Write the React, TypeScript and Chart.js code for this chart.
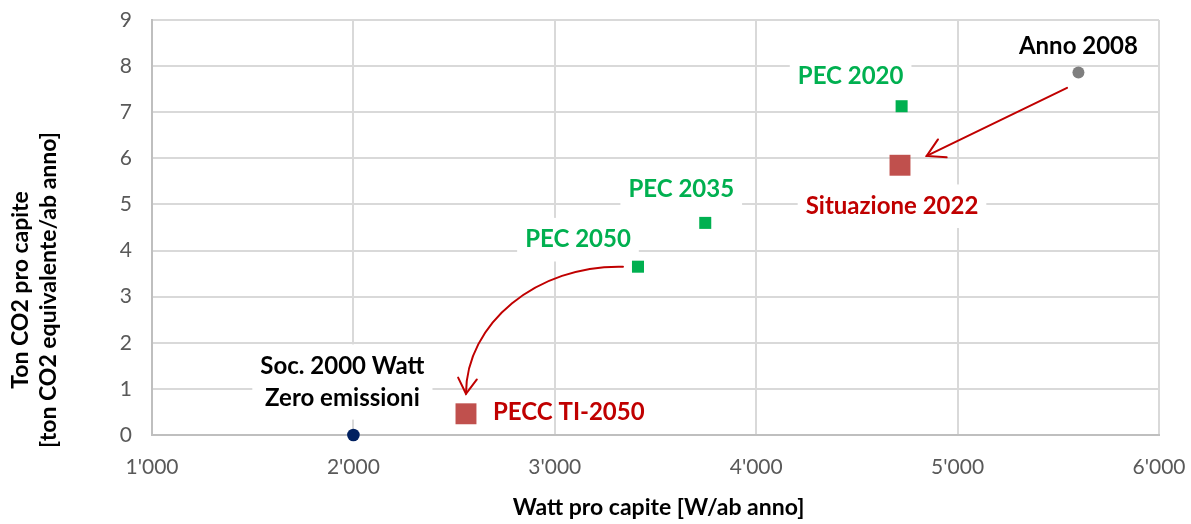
import { useEffect, useRef } from "react";
import { Chart, registerables } from "chart.js";

Chart.register(...registerables);

// ---- data ----
const pointNames = [
  "Soc. 2000 Watt\nZero emissioni",
  "PECC TI-2050",
  "PEC 2050",
  "PEC 2035",
  "PEC 2020",
  "Situazione 2022",
  "Anno 2008",
];
const wattPerCapita = [2000, 2559, 3413, 3747, 4722, 4714, 5600];
const co2PerCapita = [0, 0.46, 3.65, 4.6, 7.13, 5.85, 7.86];
const xTickValues = [1000, 2000, 3000, 4000, 5000, 6000];
const yTickValues = [0, 1, 2, 3, 4, 5, 6, 7, 8, 9];

// ---- styles ----
const pointColors = ["#002060", "#c0504d", "#00b050", "#00b050", "#00b050", "#c0504d", "#7f7f7f"];
const pointShapes = ["circle", "rect", "rect", "rect", "rect", "rect", "circle"];
const pointRadii = [6.3, 14.8, 8.5, 8.5, 8.5, 14.8, 6];
const labelColors = ["#000000", "#c00000", "#00b050", "#00b050", "#00b050", "#c00000", "#000000"];
// label offsets relative to marker (px): dx, dy, align, box
const labelLayout = [
  { dx: -11, dy: -53, align: "center", box: true },
  { dx: 27, dy: -2, align: "left", box: false },
  { dx: -60, dy: -27, align: "center", box: true },
  { dx: -24, dy: -34, align: "center", box: true },
  { dx: -51, dy: -30, align: "center", box: true },
  { dx: -8, dy: 41, align: "center", box: true },
  { dx: 0, dy: -26, align: "center", box: false },
];

const FONT = "Lato, 'Open Sans', sans-serif";
const ARROW = "#c00000";

function arrowHead(ctx: CanvasRenderingContext2D, tx: number, ty: number, fromX: number, fromY: number, len = 19, ang = Math.PI / 6) {
  const a = Math.atan2(fromY - ty, fromX - tx);
  ctx.beginPath();
  ctx.moveTo(tx + len * Math.cos(a + ang), ty + len * Math.sin(a + ang));
  ctx.lineTo(tx, ty);
  ctx.lineTo(tx + len * Math.cos(a - ang), ty + len * Math.sin(a - ang));
  ctx.stroke();
}

const zeroPad = (s: any) => {
  s.paddingTop = 0;
  s.paddingBottom = 0;
  s.paddingLeft = 0;
  s.paddingRight = 0;
};

const annotationPlugin = {
  id: "annotations",
  beforeDatasetsDraw(chart: any) {
    const ctx: CanvasRenderingContext2D = chart.ctx;
    const xs = chart.scales.x;
    const ys = chart.scales.y;
    ctx.save();
    ctx.font = `bold 24px ${FONT}`;
    ctx.textBaseline = "middle";
    pointNames.forEach((name, i) => {
      const px = xs.getPixelForValue(wattPerCapita[i]);
      const py = ys.getPixelForValue(co2PerCapita[i]);
      const L = labelLayout[i];
      const lines = name.split("\n");
      const lh = 31.6;
      const cx = px + L.dx;
      const cy = py + L.dy;
      const widths = lines.map((l) => ctx.measureText(l).width);
      const maxW = Math.max(...widths);
      const totalH = lh * lines.length;
      const top = cy - totalH / 2 + lh / 2;
      if (L.box) {
        const left = L.align === "center" ? cx - maxW / 2 : cx;
        ctx.fillStyle = "#ffffff";
        ctx.fillRect(left - 8, cy - totalH / 2 - 6, maxW + 16, totalH + 12);
      }
      ctx.fillStyle = labelColors[i];
      ctx.textAlign = L.align as CanvasTextAlign;
      lines.forEach((l, k) => ctx.fillText(l, cx, top + k * lh));
    });
    ctx.restore();
  },
  afterDatasetsDraw(chart: any) {
    const ctx: CanvasRenderingContext2D = chart.ctx;
    const xs = chart.scales.x;
    const ys = chart.scales.y;
    const P = (i: number) => ({ x: xs.getPixelForValue(wattPerCapita[i]), y: ys.getPixelForValue(co2PerCapita[i]) });
    ctx.save();
    ctx.strokeStyle = ARROW;
    ctx.lineWidth = 2;
    ctx.lineCap = "round";
    // straight arrow: Anno 2008 -> Situazione 2022
    const a = P(6);
    const b = P(5);
    const sx = a.x - 11.4, sy = a.y + 15.3;
    const tx = b.x + 26.7, ty = b.y - 9.3;
    ctx.beginPath();
    ctx.moveTo(sx, sy);
    ctx.lineTo(tx, ty);
    ctx.stroke();
    arrowHead(ctx, tx, ty, sx, sy, 20, 0.52);
    // curved arrow: PEC 2050 -> PECC TI-2050
    const c = P(2);
    const d = P(1);
    const s2x = c.x - 15, s2y = c.y;
    const e2x = d.x, e2y = d.y - 20;
    const c1x = s2x - 0.55 * (s2x - e2x), c1y = s2y - 2;
    const c2x = e2x, c2y = e2y - 0.55 * (e2y - s2y);
    ctx.beginPath();
    ctx.moveTo(s2x, s2y);
    ctx.bezierCurveTo(c1x, c1y, c2x, c2y, e2x, e2y);
    ctx.stroke();
    arrowHead(ctx, e2x, e2y, e2x + 1, e2y - 10, 18, 0.55);
    ctx.restore();
  },
  afterDraw(chart: any) {
    const ctx: CanvasRenderingContext2D = chart.ctx;
    ctx.save();
    ctx.fillStyle = "#000000";
    ctx.textBaseline = "middle";
    // y title
    ctx.translate(0, 290);
    ctx.rotate(-Math.PI / 2);
    ctx.textAlign = "center";
    ctx.font = `bold 23px ${FONT}`;
    ctx.fillText("Ton CO2 pro capite", 0, 21);
    ctx.fillText("[ton CO2 equivalente/ab anno]", 0, 49);
    ctx.restore();
    // x title
    ctx.save();
    ctx.fillStyle = "#000000";
    ctx.textBaseline = "middle";
    ctx.font = `bold 23px ${FONT}`;
    const t1 = "Watt pro capite ";
    const w1 = ctx.measureText(t1).width;
    const t2 = "[W/ab anno]";
    const w2 = ctx.measureText(t2).width;
    const area = chart.chartArea;
    const start = (area.left + area.right) / 2 + 3 - (w1 + w2) / 2;
    ctx.textAlign = "left";
    ctx.fillText(t1, start, 508);
    ctx.fillText(t2, start + w1, 508);
    ctx.restore();
  },
};

export default function App() {
  const ref = useRef<HTMLCanvasElement>(null);
  useEffect(() => {
    if (!ref.current) return;
    const chart = new Chart(ref.current, {
      type: "scatter",
      data: {
        datasets: [
          {
            label: "punti",
            data: wattPerCapita.map((x, i) => ({ x, y: co2PerCapita[i] })),
            backgroundColor: pointColors,
            borderColor: pointColors,
            borderWidth: 0,
            pointStyle: pointShapes as any,
            pointRadius: pointRadii,
            pointHoverRadius: pointRadii,
            clip: false as any,
          },
        ],
      },
      options: {
        responsive: false,
        animation: false,
        events: [],
        layout: { padding: { top: 20, right: 32, left: 0, bottom: 0 } },
        plugins: { legend: { display: false }, tooltip: { enabled: false } },
        scales: {
          x: {
            type: "linear",
            min: 1000,
            max: 6000,
            afterBuildTicks: (s: any) => {
              s.ticks = xTickValues.map((v) => ({ value: v }));
            },
            afterFit: (s: any) => {
              s.height = 89;
              zeroPad(s);
            },
            grid: { color: "#d9d9d9", lineWidth: 2, drawTicks: false },
            border: { color: "#bfbfbf", width: 2 },
            ticks: {
              color: "#595959",
              font: { family: FONT, size: 21 },
              padding: 20,
              maxRotation: 0,
              callback: (v: any) => Number(v).toLocaleString("en-US").replace(/,/g, "'"),
            },
          },
          y: {
            type: "linear",
            min: 0,
            max: 9,
            afterBuildTicks: (s: any) => {
              s.ticks = yTickValues.map((v) => ({ value: v }));
            },
            afterFit: (s: any) => {
              s.width = 152;
              zeroPad(s);
            },
            grid: { color: "#d9d9d9", lineWidth: 2, drawTicks: false },
            border: { color: "#bfbfbf", width: 2 },
            ticks: {
              color: "#595959",
              font: { family: FONT, size: 21 },
              padding: 20,
            },
          },
        },
      },
      plugins: [annotationPlugin],
    });
    return () => chart.destroy();
  }, []);
  return (
    <div style={{ position: "fixed", left: 0, top: 0, width: 1191, height: 524, background: "#fff" }}>
      <canvas ref={ref} width={1191} height={524} style={{ display: "block" }} />
    </div>
  );
}
